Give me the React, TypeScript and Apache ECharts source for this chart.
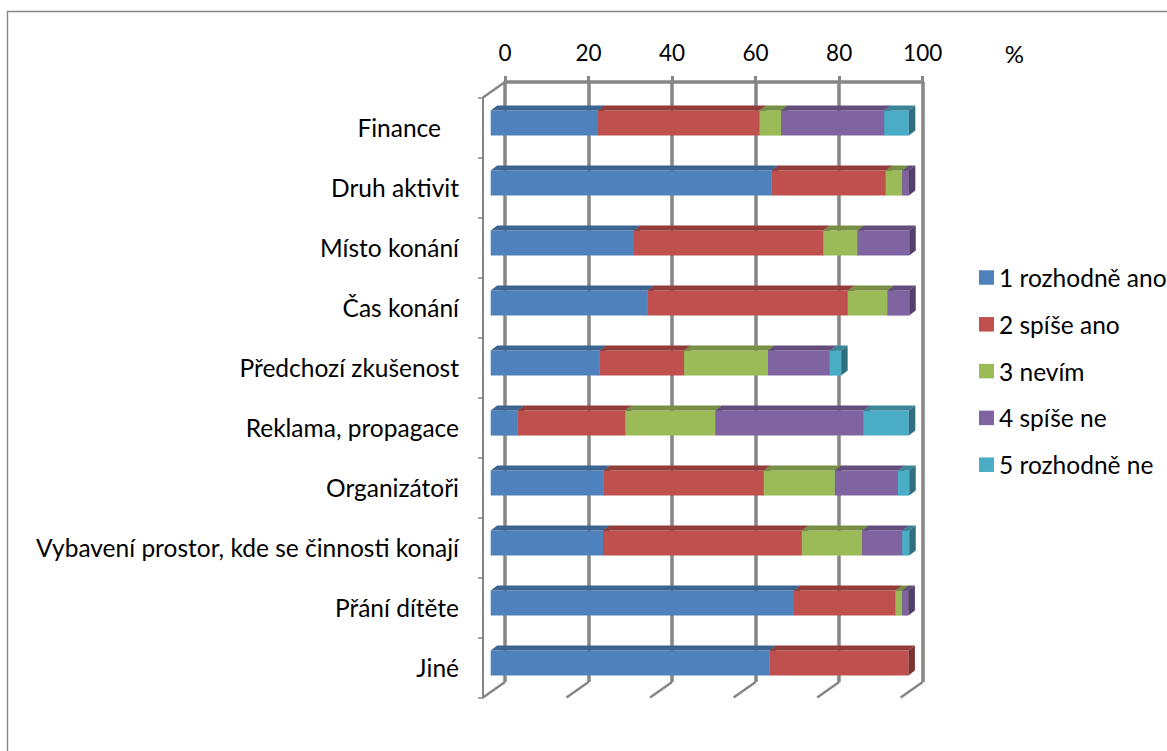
import React, { useEffect, useRef } from "react";
import * as echarts from "echarts";

const categories = [
  "Finance",
  "Druh aktivit",
  "Místo konání",
  "Čas konání",
  "Předchozí zkušenost",
  "Reklama, propagace",
  "Organizátoři",
  "Vybavení prostor, kde se činnosti konají",
  "Přání dítěte",
  "Jiné",
];

const seriesNames = ["1 rozhodně ano", "2 spíše ano", "3 nevím", "4 spíše ne", "5 rozhodně ne"];

const rozhodneAno = [25.7, 67.3, 34.3, 37.6, 26.1, 6.5, 27.1, 26.9, 72.6, 66.8];
const spiseAno = [38.7, 27.3, 45.3, 47.9, 20.2, 25.7, 38.3, 47.6, 24.3, 33.2];
const nevim = [5.1, 3.9, 8.2, 9.5, 20.1, 21.6, 17.0, 14.4, 1.6, 0];
const spiseNe = [24.7, 1.6, 12.4, 5.2, 14.8, 35.5, 15.1, 9.6, 1.5, 0];
const rozhodneNe = [5.9, 0, 0, 0, 2.7, 10.8, 2.7, 1.7, 0, 0];

const xTicks = [0, 20, 40, 60, 80, 100];

const seriesValues = [rozhodneAno, spiseAno, nevim, spiseNe, rozhodneNe];

const frontColors = ["#4F81BD", "#C0504D", "#9BBB59", "#8064A2", "#4BACC6"];
const topColors = ["#3C6491", "#933D3A", "#778F45", "#624D7C", "#3A8598"];
const sideColors = ["#335479", "#7B3331", "#637839", "#524068", "#306F80"];

const FONT = "Lato, 'Open Sans', sans-serif";
const LABEL_SIZE = 24.5;
const TICK_SIZE = 22.5;
const GRID_W = 417.7;
const DEPTH_X = -22;
const DEPTH_Y = 15.5;
const BAR_DX = -14.3;
const BAR_DY = 11;
const TOP_DX = 6.5;
const TOP_DY = -5;
const AXIS_GRAY = "#868686";

export default function App() {
  const ref = useRef<HTMLDivElement>(null);

  useEffect(() => {
    if (!ref.current) return;
    const chart = echarts.init(ref.current, null, { renderer: "svg" });

    const barSeries = seriesValues.map((vals, si) => {
      const data = vals.map((v, ci) => {
        let start = 0;
        for (let k = 0; k < si; k++) start += seriesValues[k][ci];
        return [ci, start, start + v];
      });
      return {
        name: seriesNames[si],
        type: "custom",
        xAxisIndex: 0,
        yAxisIndex: 0,
        itemStyle: { color: frontColors[si] },
        encode: { x: [1, 2], y: 0 },
        data,
        z: 10,
        renderItem: (params: any, api: any) => {
          const cat = api.value(0);
          const start = api.value(1);
          const end = api.value(2);
          if (end - start <= 0.0001) return null;
          const p0 = api.coord([start, cat]);
          const p1 = api.coord([end, cat]);
          const band = api.size([0, 1])[1];
          const h = band * 0.42;
          const x0 = p0[0] + BAR_DX;
          const x1 = p1[0] + BAR_DX;
          const yc = p0[1] + BAR_DY;
          const yt = yc - h / 2;
          const yb = yc + h / 2;
          return {
            type: "group",
            children: [
              {
                type: "rect",
                shape: { x: x0, y: yt, width: x1 - x0, height: h },
                style: { fill: frontColors[si] },
              },
              {
                type: "polygon",
                shape: {
                  points: [
                    [x0, yt],
                    [x1, yt],
                    [x1 + TOP_DX, yt + TOP_DY],
                    [x0 + TOP_DX, yt + TOP_DY],
                  ],
                },
                style: { fill: topColors[si] },
              },
              {
                type: "polygon",
                shape: {
                  points: [
                    [x1, yt],
                    [x1 + TOP_DX, yt + TOP_DY],
                    [x1 + TOP_DX, yb + TOP_DY],
                    [x1, yb],
                  ],
                },
                style: { fill: sideColors[si] },
              },
            ],
          };
        },
      };
    });

    const floorSeries = {
      type: "custom",
      name: "floor",
      xAxisIndex: 0,
      yAxisIndex: 0,
      silent: true,
      z: 1,
      encode: { x: 0 },
      data: xTicks.map((t) => [t]),
      renderItem: (params: any, api: any) => {
        const v = api.value(0);
        const cs = params.coordSys;
        const x = api.coord([v, 0])[0];
        const yb = cs.y + cs.height;
        const children: any[] = [
          {
            type: "line",
            shape: { x1: x, y1: yb, x2: x + DEPTH_X, y2: yb + DEPTH_Y },
            style: { stroke: AXIS_GRAY, lineWidth: 2.5 },
          },
        ];
        if (v === 0) {
          children.push({
            type: "line",
            shape: { x1: cs.x, y1: cs.y, x2: cs.x + DEPTH_X, y2: cs.y + DEPTH_Y },
            style: { stroke: AXIS_GRAY, lineWidth: 2.5 },
          });
        }
        return { type: "group", children };
      },
    };

    chart.setOption({
      animation: false,
      backgroundColor: "#ffffff",
      textStyle: { fontFamily: FONT },
      graphic: [
        {
          type: "rect",
          shape: { x: 7.5, y: 11.5, width: 1300, height: 900 },
          style: { fill: "none", stroke: AXIS_GRAY, lineWidth: 1.4 },
          z: -1,
        },
      ],
      legend: {
        orient: "vertical",
        left: 974,
        top: 260,
        itemWidth: 15,
        itemHeight: 14.5,
        itemGap: 21.8,
        icon: "rect",
        data: seriesNames,
        textStyle: { fontSize: LABEL_SIZE, color: "#000", fontFamily: FONT },
      },
      grid: [
        { left: 505, top: 82, width: GRID_W, height: 600 },
        { left: 505 + DEPTH_X, top: 82 + DEPTH_Y, width: GRID_W, height: 600 },
      ],
      xAxis: [
        {
          type: "value",
          gridIndex: 0,
          position: "top",
          min: 0,
          max: 100,
          interval: 20,
          name: "%",
          nameLocation: "end",
          nameGap: 82,
          nameTextStyle: {
            fontSize: 24,
            color: "#000",
            fontFamily: FONT,
            verticalAlign: "bottom",
            padding: [0, 0, 17, 0],
          },
          axisLine: { show: true, lineStyle: { color: AXIS_GRAY, width: 3.5 } },
          axisTick: { show: true, length: 6, lineStyle: { color: AXIS_GRAY, width: 3 } },
          axisLabel: { fontSize: TICK_SIZE, color: "#000", margin: 18.5, fontFamily: FONT },
          splitLine: { show: true, lineStyle: { color: AXIS_GRAY, width: 3.5 } },
        },
        {
          type: "value",
          gridIndex: 1,
          min: 0,
          max: 100,
          show: false,
        },
      ],
      yAxis: [
        {
          type: "category",
          gridIndex: 0,
          data: categories,
          inverse: true,
          show: false,
        },
        {
          type: "category",
          gridIndex: 1,
          data: categories,
          inverse: true,
          axisLine: { show: true, lineStyle: { color: AXIS_GRAY, width: 2 } },
          axisTick: { show: true, length: 5, lineStyle: { color: AXIS_GRAY, width: 1.5 } },
          axisLabel: {
            fontSize: LABEL_SIZE,
            color: "#000",
            margin: 24,
            fontFamily: FONT,
            formatter: (v: string) => (v === "Finance" ? "{f|" + v + "}" : v),
            rich: {
              f: { fontSize: LABEL_SIZE, color: "#000", fontFamily: FONT, padding: [0, 18, 0, 0] },
            },
          },
          splitLine: { show: false },
        },
      ],
      series: [floorSeries, ...barSeries],
    });

    return () => chart.dispose();
  }, []);

  return (
    <div
      ref={ref}
      style={{ position: "fixed", left: 0, top: 0, width: 1167, height: 751 }}
    />
  );
}
